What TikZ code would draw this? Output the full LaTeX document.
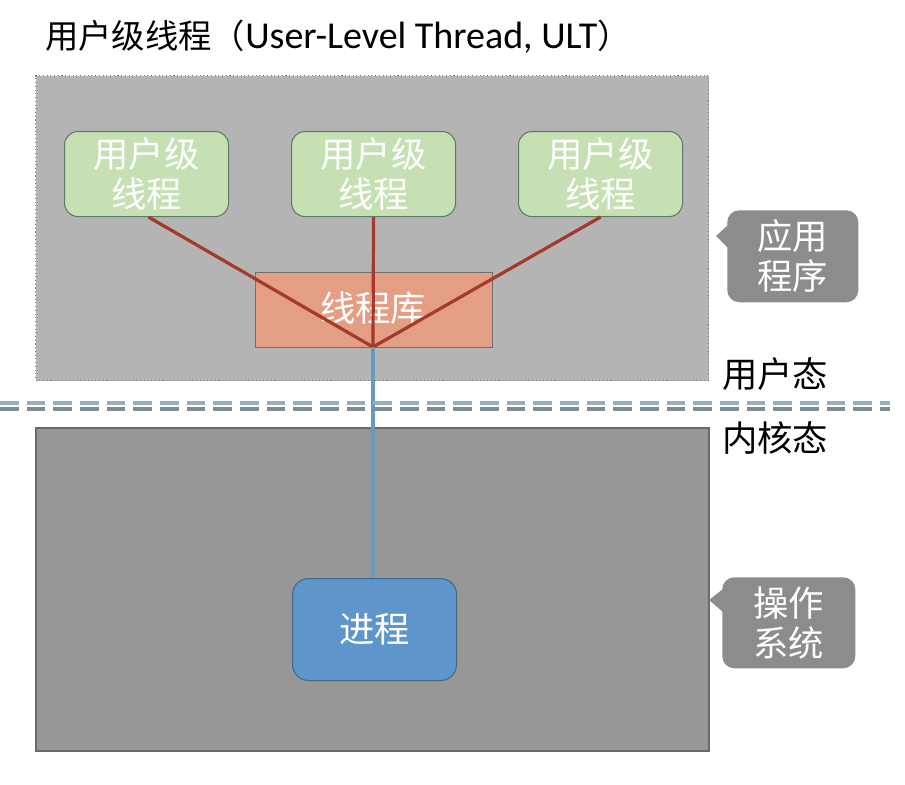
\documentclass[tikz,border=0pt]{standalone}
\usepackage{fontspec}
\setmainfont{Carlito}
\newfontfamily\cjk{Noto Sans CJK SC}
\definecolor{upbg}{HTML}{B4B4B4}
\definecolor{upbd}{HTML}{7A7A7A}
\definecolor{lowbg}{HTML}{979797}
\definecolor{lowbd}{HTML}{6A6A6A}
\definecolor{greenf}{HTML}{C6E0B4}
\definecolor{greend}{HTML}{5E7A66}
\definecolor{libf}{HTML}{E49E84}
\definecolor{libd}{HTML}{707070}
\definecolor{redln}{HTML}{A33A2A}
\definecolor{blueln}{HTML}{6A98C4}
\definecolor{procf}{HTML}{5E95CA}
\definecolor{procd}{HTML}{41688F}
\definecolor{callf}{HTML}{8C8C8C}
\definecolor{dashA}{HTML}{93AFC2}
\definecolor{dashB}{HTML}{7E8C96}
\begin{document}
\begin{tikzpicture}[x=0.75pt,y=-0.75pt,
  txt/.style={font=\cjk\fontsize{26.5}{29}\selectfont},
  thread/.style={draw=greend,fill=greenf,rounded corners=10pt,line width=0.8pt,text=white,align=center,txt,
     minimum width=123pt,minimum height=63.75pt,anchor=north west,inner sep=0},
  callout/.style={fill=callf,rounded corners=9pt,text=white,align=center,txt,anchor=north west,inner sep=0},
  redline/.style={draw=redln,line width=2.4pt},
]
\useasboundingbox (0,0) rectangle (905,784);
\fill[white] (0,0) rectangle (905,784);

% title
\node[anchor=west,inner sep=0] (title) at (45,37) {{\cjk\fontsize{25}{30}\selectfont 用户级线程（}{\fontsize{28.5}{30}\selectfont User-Level Thread, ULT}{\cjk\fontsize{25}{30}\selectfont ）}};

% regions
\node[draw=upbd,dotted,fill=upbg,minimum width=504.75pt,minimum height=228.75pt,anchor=north west,inner sep=0,line width=0.8pt] (user) at (35,75) {};
\node[draw=lowbd,fill=lowbg,minimum width=504.75pt,minimum height=242.25pt,anchor=north west,inner sep=0,line width=1.2pt] (kern) at (35,427) {};

% library
\node[draw=libd,fill=libf,minimum width=177.75pt,minimum height=56.25pt,anchor=north west,inner sep=0,line width=0.8pt] (lib) at (255,272) {};
\node[txt,text=white] (libt) at (373,308) {线程库};

% threads
\node[thread] (t1) at (64,131) {用户级\\[1pt]线程};
\node[thread] (t2) at (291,131) {用户级\\[1pt]线程};
\node[thread] (t3) at (518,131) {用户级\\[1pt]线程};

\coordinate (hub) at (373,347);
\draw[redline] ([xshift=1.5pt]t1.south) -- (hub);
\draw[redline] (t2.south) -- (hub);
\draw[redline] (t3.south) -- (hub);

% process
\node[draw=procd,fill=procf,rounded corners=12pt,minimum width=123pt,minimum height=76.5pt,anchor=north west,inner sep=0,line width=0.8pt,text=white,txt] (proc) at (292,578) {进程};
\draw[blueln,line width=2.4pt] (hub) -- (hub |- proc.north);

% boundary double dashed line
\coordinate (dl) at (0,403);
\coordinate (dr) at (890,403);
\draw[dashA,line width=2.4pt,dash pattern=on 14pt off 6pt] (dl) -- (dr);
\draw[dashB,line width=2.4pt,dash pattern=on 14pt off 6pt] ([yshift=-4.5pt]dl) -- ([yshift=-4.5pt]dr);

% state labels
\node[txt,anchor=west,inner sep=0] (us) at (722,374) {用户态};
\node[txt,anchor=west,inner sep=0] (ks) at (722,438) {内核态};

% callouts
\node[callout,minimum width=98.25pt,minimum height=69pt] (c1) at (727,210) {应用\\[1pt]程序};
\fill[callf] (716,236) -- (728,225) -- (728,248) -- cycle;
\node[callout,minimum width=99.75pt,minimum height=68.25pt] (c2) at (722,577) {操作\\[1pt]系统};
\fill[callf] (709,600) -- (723,589) -- (723,612) -- cycle;
\end{tikzpicture}
\end{document}
